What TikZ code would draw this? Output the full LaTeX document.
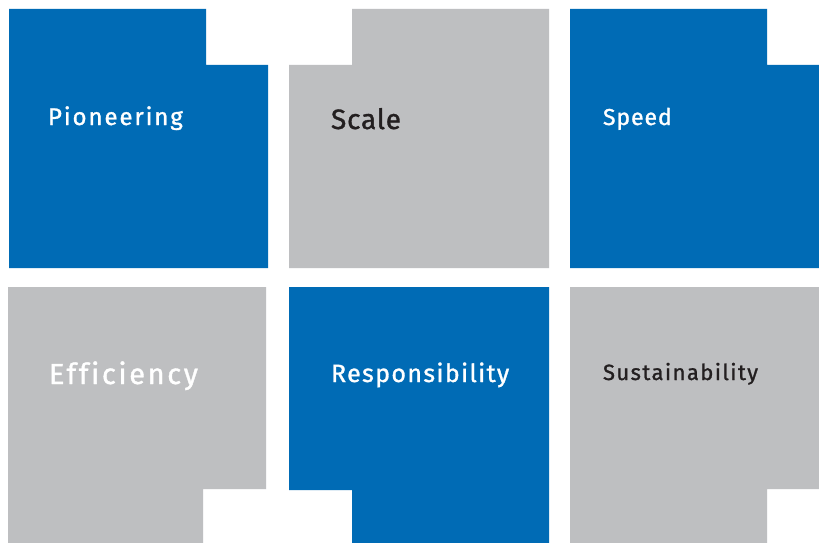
\documentclass[tikz,border=0pt]{standalone}
\usepackage{fontspec}
\setmainfont{Fira Sans}[Ligatures=NoCommon,FakeBold=1.2]
\definecolor{tileblue}{HTML}{006BB5}
\definecolor{tilegray}{HTML}{BEBFC1}
\definecolor{darktext}{HTML}{231F20}
\newcommand{\lsp}[1]{\addfontfeatures{LetterSpace=#1}}
\begin{document}
\begin{tikzpicture}[x=1pt,y=-1pt,
  bluetile/.style={fill=tileblue,draw=none},
  graytile/.style={fill=tilegray,draw=none},
  lbl/.style={anchor=base west,inner sep=0pt,outer sep=0pt}]
\useasboundingbox (0,0) rectangle (819,543);
\fill[white] (0,0) rectangle (819,543);
% row 1
\path[bluetile] (9,9) -- (206,9) -- (206,65) -- (268,65) -- (268,268) -- (9,268) -- cycle;
\path[graytile] (289,65) -- (352,65) -- (352,9) -- (549,9) -- (549,268) -- (289,268) -- cycle;
\path[bluetile] (570,9) -- (767,9) -- (767,65) -- (819,65) -- (819,268) -- (570,268) -- cycle;
% row 2
\path[graytile] (8,287) -- (266,287) -- (266,489) -- (203,489) -- (203,543) -- (8,543) -- cycle;
\path[bluetile] (289,287) -- (549,287) -- (549,543) -- (352,543) -- (352,490) -- (289,490) -- cycle;
\path[graytile] (570,287) -- (819,287) -- (819,489) -- (767,489) -- (767,543) -- (570,543) -- cycle;
% labels
\node[lbl,text=white,font=\fontsize{24}{28}\selectfont\lsp{8}] (pio) at (48,125) {Pioneering};
\node[lbl,text=darktext,font=\fontsize{28}{34}\selectfont\lsp{3}] (sca) at (331,129) {Scale};
\node[lbl,text=white,font=\fontsize{23}{28}\selectfont\lsp{4}] (spe) at (603,125) {Speed};
\node[lbl,text=white,font=\fontsize{29}{34}\selectfont\lsp{9}] (eff) at (49,384) {Efficiency};
\node[lbl,text=white,font=\fontsize{25}{30}\selectfont\lsp{5.5}] (res) at (331,382) {Responsibility};
\node[lbl,text=darktext,font=\fontsize{22}{26}\selectfont\lsp{6.5}] (sus) at (603,380) {Sustainability};
\end{tikzpicture}
\end{document}
